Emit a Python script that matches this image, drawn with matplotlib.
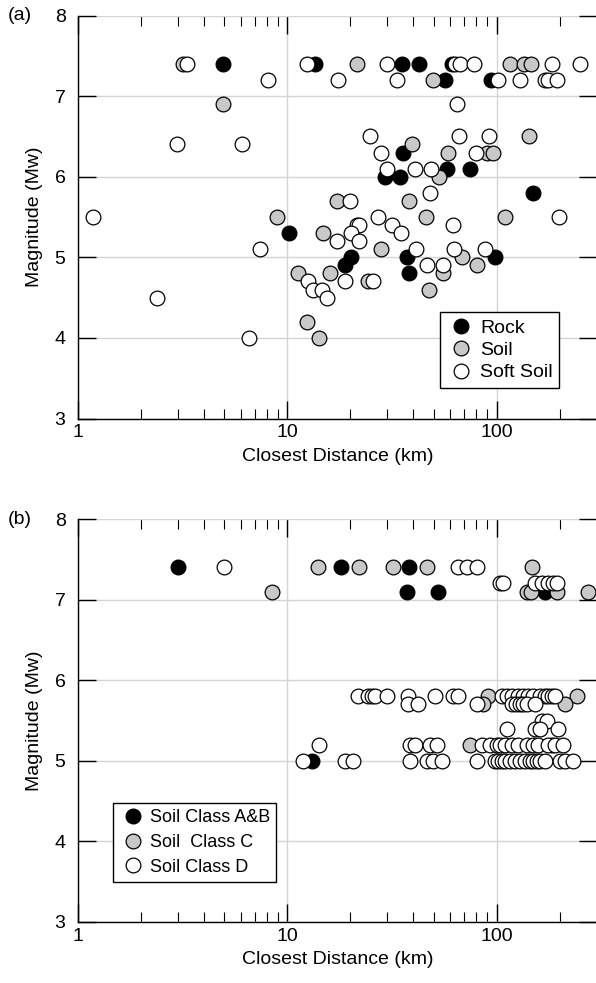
import matplotlib
matplotlib.use("Agg")
import matplotlib.pyplot as plt
from matplotlib.ticker import LogLocator, FixedLocator, NullFormatter
from matplotlib.lines import Line2D

plt.rcParams['font.family'] = ['Liberation Sans', 'DejaVu Sans']

# ---------------- Panel (a) data ----------------
rock_d_a = [4.93, 13.5, 35.3, 42.5, 60.9, 56.6, 93.8, 35.6, 57.8, 74.5, 29.2, 34.5,
            149, 10.2, 20.1, 37.3, 98, 18.8, 38.1]
rock_m_a = [7.4, 7.4, 7.4, 7.4, 7.4, 7.2, 7.2, 6.3, 6.1, 6.1, 6.0, 6.0,
            5.8, 5.3, 5.0, 5.0, 5.0, 4.9, 4.8]

soil_d_a = [3.17, 21.5, 115.7, 135, 145.6, 49.6, 4.93, 142.5, 39.4, 58.5, 89.8, 95.9,
            53, 17.3, 38.1, 8.92, 45.9, 109, 14.8, 28, 68.2, 80.4, 11.2, 16, 55.3,
            24.3, 47.4, 12.4, 14.2]
soil_m_a = [7.4, 7.4, 7.4, 7.4, 7.4, 7.2, 6.9, 6.5, 6.4, 6.3, 6.3, 6.3,
            6.0, 5.7, 5.7, 5.5, 5.5, 5.5, 5.3, 5.1, 5.0, 4.9, 4.8, 4.8, 4.8,
            4.7, 4.6, 4.2, 4.0]

soft_d_a = [3.32, 12.4, 29.9, 63.1, 66.7, 77.8, 183.6, 249.7,
            8.08, 17.4, 33.4, 101, 129, 170, 176, 194,
            64.6, 24.8, 66, 91.8, 2.97, 6.07, 28, 79.5,
            29.9, 40.7, 48.5, 48, 19.9, 1.18, 27.1, 198,
            21.5, 22, 31.6, 61.8, 20.1, 34.9, 17.3, 22,
            7.4, 41.1, 62.5, 87.9, 46.4, 55.3, 12.5, 18.8, 25.6,
            13.3, 14.6, 2.38, 15.5, 6.56]
soft_m_a = [7.4, 7.4, 7.4, 7.4, 7.4, 7.4, 7.4, 7.4,
            7.2, 7.2, 7.2, 7.2, 7.2, 7.2, 7.2, 7.2,
            6.9, 6.5, 6.5, 6.5, 6.4, 6.4, 6.3, 6.3,
            6.1, 6.1, 6.1, 5.8, 5.7, 5.5, 5.5, 5.5,
            5.4, 5.4, 5.4, 5.4, 5.3, 5.3, 5.2, 5.2,
            5.1, 5.1, 5.1, 5.1, 4.9, 4.9, 4.7, 4.7, 4.7,
            4.6, 4.6, 4.5, 4.5, 4.0]

# ---------------- Panel (b) data ----------------
ab_d_b = [3.0, 18, 38.1, 37.3, 52.4, 170, 13.1]
ab_m_b = [7.4, 7.4, 7.4, 7.1, 7.1, 7.1, 5.0]

c_d_b = [14, 22, 31.9, 46.4, 147, 8.45, 139, 145, 194, 273,
         90.8, 240.8, 86, 211.7, 74.5, 182.9]
c_m_b = [7.4, 7.4, 7.4, 7.4, 7.4, 7.1, 7.1, 7.1, 7.1, 7.1,
         5.8, 5.8, 5.7, 5.7, 5.2, 5.2]

d_d_b = ([5.0, 65.3, 72, 80.4]
         + [103.6, 107, 152, 164, 176, 185, 194]
         + [21.7, 24.3, 25.3, 26.2, 29.9, 37.7, 50.7, 61.8, 65.6, 105.5, 111.5, 117.8,
            126.7, 133.9, 141.4, 149.4, 160.8, 169.9, 176.2, 182.9, 189.6]
         + [37.7, 41.9, 80.4, 117.8, 123.5, 129.4, 133.9, 140, 152.5]
         + [163.8, 173]
         + [111.5, 152.5, 160.8, 196.6]
         + [14.2, 38.5, 40.7, 48, 51.8, 84.7, 92.8, 99.8, 103.6, 109.4, 117.8, 126.7,
            138.9, 149.4, 157.9, 176.2, 189.6, 207.8]
         + [11.9, 18.8, 20.6, 38.5, 46.4, 49.6, 54.8, 80.2, 98, 101.7, 105.5, 109.4,
            115.6, 122.2, 129.1, 136.4, 144.1, 149.4, 155.1, 160.8, 169.9, 200.4,
            211.7, 231.9])
d_m_b = ([7.4] * 4 + [7.2] * 7 + [5.8] * 21 + [5.7] * 9 + [5.5] * 2 + [5.4] * 4
         + [5.2] * 18 + [5.0] * 24)

labels_a = ["Rock", "Soil", "Soft Soil"]
labels_b = ["Soil Class A&B", "Soil  Class C", "Soil Class D"]
x_ticks = [1, 10, 100]
x_ticklabels = ["1", "10", "100"]
y_ticks = [3, 4, 5, 6, 7, 8]

GRAY = "#c8c8c8"
fills = ["black", GRAY, "white"]
FS = 14
MS = 10.6

fig = plt.figure(figsize=(5.96, 9.83), dpi=100)
W, H = 596.0, 983.0
left = 78 / W
width = 518.7 / W
ax_a = fig.add_axes([left, 1 - 418.5 / H, width, 403 / H])
ax_b = fig.add_axes([left, 1 - 922 / H, width, 403 / H])


def style(ax):
    ax.set_xscale("log")
    ax.set_xlim(1, 300)
    ax.set_ylim(3, 8)
    ax.xaxis.set_major_locator(FixedLocator(x_ticks))
    ax.set_xticklabels(x_ticklabels)
    ax.xaxis.set_minor_locator(LogLocator(base=10, subs=range(2, 10)))
    ax.xaxis.set_minor_formatter(NullFormatter())
    ax.set_yticks(y_ticks)
    ax.grid(True, which="major", color="#d4d4d4", lw=1.0)
    ax.set_axisbelow(True)
    for s in ("top", "right"):
        ax.spines[s].set_visible(False)
    for s in ("left", "bottom"):
        ax.spines[s].set_linewidth(1.0)
    ax.tick_params(which="major", direction="in", length=13, width=1,
                   top=True, right=True, labelsize=FS)
    ax.tick_params(which="minor", direction="in", length=7, width=0.8,
                   top=True, right=False)
    ax.tick_params(axis="x", pad=4)
    ax.tick_params(axis="y", pad=9)
    ax.set_xlabel("Closest Distance (km)", fontsize=FS, labelpad=5)
    ax.set_ylabel("Magnitude (Mw)", fontsize=FS, labelpad=8)


def pts(ax, d, m, fc):
    ax.plot(d, m, "o", ms=MS, mfc=fc, mec="black", mew=0.9, clip_on=False, zorder=3)


style(ax_a)
pts(ax_a, rock_d_a, rock_m_a, fills[0])
pts(ax_a, soil_d_a, soil_m_a, fills[1])
pts(ax_a, soft_d_a, soft_m_a, fills[2])

style(ax_b)
pts(ax_b, ab_d_b, ab_m_b, fills[0])
pts(ax_b, c_d_b, c_m_b, fills[1])
pts(ax_b, d_d_b, d_m_b, fills[2])


def handles(labels):
    return [Line2D([], [], ls="none", marker="o", ms=MS, mfc=f, mec="black", mew=0.9,
                   label=l) for f, l in zip(fills, labels)]


leg_kw = dict(loc="upper left", borderaxespad=0, frameon=True, fancybox=False,
              edgecolor="black", handlelength=1.5, handletextpad=0.2,
              borderpad=0.35, framealpha=1)
la = ax_a.legend(handles=handles(labels_a), bbox_to_anchor=(0.698, 0.264),
                 fontsize=FS, labelspacing=0.25, **leg_kw)
la.get_frame().set_linewidth(1.0)
lb = ax_b.legend(handles=handles(labels_b), bbox_to_anchor=(0.067, 0.295),
                 fontsize=13, labelspacing=0.42, **leg_kw)
lb.get_frame().set_linewidth(1.0)

fig.text(8 / W, 1 - 15 / H, "(a)", fontsize=FS, va="center", ha="left")
fig.text(8 / W, 1 - 519 / H, "(b)", fontsize=FS, va="center", ha="left")

fig.savefig("out.png", dpi=100)
